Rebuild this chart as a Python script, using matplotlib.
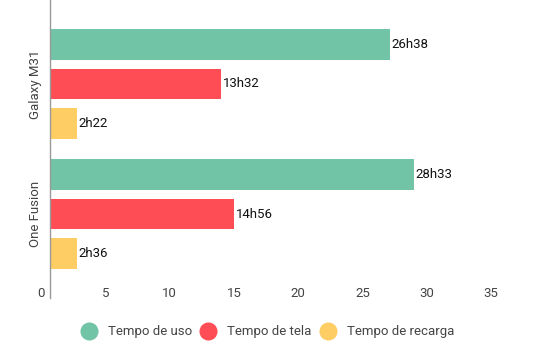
import matplotlib
matplotlib.use("Agg")
import matplotlib.pyplot as plt
from matplotlib.lines import Line2D
from matplotlib.transforms import ScaledTranslation
import numpy as np

plt.rcParams['font.family'] = ['Roboto', 'DejaVu Sans']

devices = ["Galaxy M31", "One Fusion"]
series_names = ["Tempo de uso", "Tempo de tela", "Tempo de recarga"]
colors = ["#71C4A6", "#FF4D55", "#FECD63"]
values = {
    "Tempo de uso": [26.4, 28.3],
    "Tempo de tela": [13.3, 14.3],
    "Tempo de recarga": [2.1, 2.1],
}
value_labels = {
    "Tempo de uso": ["26h38", "28h33"],
    "Tempo de tela": ["13h32", "14h56"],
    "Tempo de recarga": ["2h22", "2h36"],
}
xticks = [0, 5, 10, 15, 20, 25, 30, 35]

fig = plt.figure(figsize=(5.4, 3.54), dpi=100)
ax = fig.add_axes([50/540, 71/354, 463/540, 283/354])

y = np.arange(len(devices))
step = 0.301
height = 0.237
for i, name in enumerate(series_names):
    pos = y + (i - 1) * step
    ax.barh(pos, values[name], height=height, color=colors[i], zorder=2)
    for p, v, lab in zip(pos, values[name], value_labels[name]):
        ax.annotate(lab, (v, p), xytext=(1.2, 0), textcoords="offset points",
                    va="center", ha="left", fontsize=9.5, color="#111111")

ax.set_xlim(0, 36)
ax.set_ylim(1.53, -0.645)
ax.set_xticks(xticks)
ax.set_xticklabels([str(t) for t in xticks])
ax.set_yticks(y)
ax.set_yticklabels(devices, rotation=90, va="center")
ax.tick_params(axis="x", length=0, pad=3, labelsize=9.5, labelcolor="#444444")
ax.tick_params(axis="y", length=0, pad=6, labelsize=9.5, labelcolor="#444444")

offset = ScaledTranslation(-9/100, 0, fig.dpi_scale_trans)
for lab in ax.get_xticklabels():
    lab.set_transform(lab.get_transform() + offset)

for s in ax.spines.values():
    s.set_visible(False)
ax.axvline(0, ymin=-0.053, ymax=1, color="#999999", lw=1, clip_on=False, zorder=3)

handles = [Line2D([0], [0], marker="o", linestyle="none", markersize=12,
                  markerfacecolor=c, markeredgecolor=c) for c in colors]
fig.legend(handles, series_names, loc="center", bbox_to_anchor=(0.497, 1 - 332/354),
           ncol=3, frameon=False, fontsize=9.5, handlelength=1.0,
           handletextpad=0.94, columnspacing=0.75, labelcolor="#444444")

fig.savefig("out.png", dpi=100, facecolor="white")
